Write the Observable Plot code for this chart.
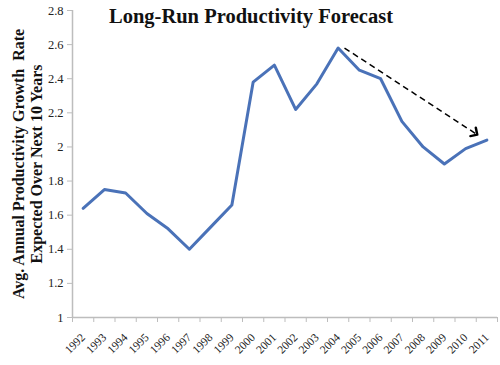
<!DOCTYPE html>
<html><head><meta charset="utf-8">
<script src="https://cdn.jsdelivr.net/npm/d3@7"></script>
<script src="https://cdn.jsdelivr.net/npm/@observablehq/plot@0.6"></script>
<style>body{margin:0;background:#fff}</style>
</head><body><div id="chart"></div>
<script>
const years = [1992,1993,1994,1995,1996,1997,1998,1999,2000,2001,2002,2003,2004,2005,2006,2007,2008,2009,2010,2011];
const values = [1.64,1.75,1.73,1.61,1.52,1.40,1.53,1.66,2.38,2.48,2.22,2.37,2.58,2.45,2.40,2.15,2.00,1.90,1.99,2.04];
const yTicks = [1,1.2,1.4,1.6,1.8,2,2.2,2.4,2.6,2.8];
const title = "Long-Run Productivity Forecast";
const yLabelLines = ["Avg. Annual Productivity Growth\u00a0 Rate", "Expected Over Next 10 Years"];
const trendStart = [2004.3, 2.58];
const trendEnd = [2010.45, 2.08];

const data = years.map((year, i) => ({year, value: values[i]}));
const bounds = d3.range(years.length + 1).map(i => years[0] - 0.5 + i);
const trend = [{x1: trendStart[0], y1: trendStart[1], x2: trendEnd[0], y2: trendEnd[1]}];

const chart = Plot.plot({
  width: 500, height: 365,
  marginLeft: 72, marginRight: 3, marginTop: 10, marginBottom: 48,
  style: {fontFamily: "'Liberation Serif', serif", background: "#fff", color: "#222"},
  x: {domain: [years[0] - 0.5, years[years.length - 1] + 0.5]},
  y: {domain: [1, 2.8]},
  marks: [
    Plot.ruleX([years[0] - 0.5], {stroke: "#bdbdbd", strokeWidth: 1.5}),
    Plot.ruleY([1], {stroke: "#bdbdbd", strokeWidth: 1.5}),
    Plot.axisY({ticks: yTicks, tickSize: 5, tickPadding: 4, stroke: "#bdbdbd", fill: "#222", fontSize: 12.5, tickFormat: d => String(d), label: null}),
    Plot.axisX({ticks: bounds, tickSize: 5, tickFormat: () => "", stroke: "#bdbdbd", label: null}),
    Plot.axisX({ticks: years, tickSize: 0, tickPadding: 18, tickRotate: -45, fill: "#222", fontSize: 11.5, tickFormat: d => String(d), label: null}),
    Plot.line(data, {x: "year", y: "value", stroke: "#4a72b8", strokeWidth: 3}),
    Plot.link(trend, {x1: "x1", y1: "y1", x2: "x2", y2: "y2", stroke: "#000", strokeWidth: 1.5, strokeDasharray: "6,4", markerEnd: "arrow"}),
    Plot.text([title], {text: d => d, frameAnchor: "top", dx: -34, dy: -2, lineAnchor: "top", fontSize: 20.5, fontWeight: "bold", fill: "#111"}),
    Plot.text([yLabelLines.join("\n")], {text: d => d, frameAnchor: "left", textAnchor: "middle", rotate: -90, dx: -45, lineAnchor: "middle", lineHeight: 1.1, fontSize: 16, fontWeight: "bold", fill: "#111"})
  ]
});
chart.querySelectorAll("marker").forEach(m => {
  m.setAttribute("stroke-dasharray", "none");
  m.setAttribute("markerWidth", 11);
  m.setAttribute("markerHeight", 11);
});
document.getElementById("chart").appendChild(chart);
</script>
</body></html>
